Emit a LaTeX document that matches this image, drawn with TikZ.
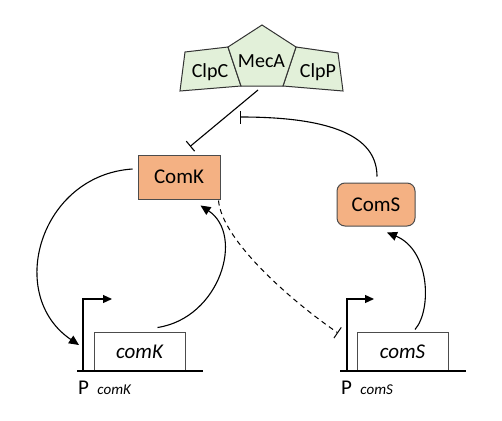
\documentclass[tikz,border=0pt]{standalone}
\usepackage{fontspec}
\setmainfont{Carlito}
\usetikzlibrary{positioning,arrows.meta}

\definecolor{protfill}{HTML}{F4B183}
\definecolor{clpfill}{HTML}{E2F0D9}

\tikzset{
  protein/.style={draw=black!70, line width=1pt, fill=protfill, minimum width=82pt, minimum height=44pt, font=\fontsize{21}{24}\selectfont},
  gene/.style={draw=black!70, line width=1pt, fill=white, minimum width=91pt, minimum height=39pt, font=\fontsize{21}{24}\selectfont\itshape},
  subunit/.style={draw=black!80, line width=1pt, fill=clpfill},
  sublabel/.style={font=\fontsize{20}{22}\selectfont, inner sep=0pt, anchor=base},
  plabel/.style={font=\fontsize{21}{24}\selectfont, inner sep=0pt, anchor=base west},
  act/.style={line width=1.1pt, -{Triangle[length=10pt,width=9pt]}},
  inh/.style={line width=1.1pt, -{Bar[width=13pt]}},
  prom/.style={line width=1.2pt, -{Triangle[length=9pt,width=8pt]}},
  dna/.style={line width=2.5pt},
}

\begin{document}
\begin{tikzpicture}[x=1pt, y=-1pt]
  \useasboundingbox (0,0) rectangle (502,420);

  % Define the complex
  \draw[subunit] (185,52) -- (228,47) -- (241,86) -- (180,91) -- cycle;
  \draw[subunit] (296,47) -- (338,53) -- (343,91) -- (283,86) -- cycle;
  \draw[subunit] (262,25) -- (296,47) -- (283,86) -- (241,86) -- (228,47) -- cycle;
  \node[sublabel] (clpc) at (210,77) {ClpC};
  \node[sublabel] (meca) at (261.5,67) {MecA};
  \node[sublabel] (clpp) at (318,77) {ClpP};
  \coordinate (mecatail) at (258,90);

  % Define nodes
  \node[protein] (comk) at (179,177) {ComK};
  \node[protein, rounded corners=8pt, minimum width=78pt, minimum height=43pt] (coms) at (376,204.5) {ComS};
  \node[gene] (kgene) at (139.5,351.5) {comK};
  \node[gene] (sgene) at (402.5,351.5) {comS};

  % Promoters
  \coordinate (kbase) at (83,371);
  \coordinate (ktss) at (83,299);
  \coordinate (sbase) at (347,371);
  \coordinate (stss) at (347,299);
  \draw[dna] (77,371) -- (203,371);
  \draw[dna] (340,371) -- (466,371);
  \draw[prom] (kbase) -- (ktss) -- ++(29,0);
  \draw[prom] (sbase) -- (stss) -- ++(27,0);
  \node[plabel] (pk) at (78,394) {P};
  \node[plabel, font=\fontsize{15}{17}\selectfont\itshape, right=8pt of pk.base east, anchor=base west] (pksub) {comK};
  \node[plabel] (ps) at (341,394) {P};
  \node[plabel, font=\fontsize{15}{17}\selectfont\itshape, right=8pt of ps.base east, anchor=base west] (pssub) {comS};

  % Targets
  \coordinate (kbind) at (79,345);
  \coordinate (sbind) at (338,333);
  \coordinate (mecahit) at (240,117);

  % Connect the nodes
  \draw[inh] (mecatail) -- ([xshift=11pt,yshift=8pt]comk.north);
  \draw[act] ([xshift=-5pt,yshift=8pt]comk.west) .. controls (40,175) and (5,295) .. (kbind);
  \draw[act] ([xshift=18pt,yshift=4pt]kgene.north) .. controls (220,318) and (245,235) .. ([xshift=-20pt,yshift=-6pt]comk.south east);
  \draw[inh, dash pattern=on 5pt off 4pt, line width=1pt] ([xshift=-2pt,yshift=-1pt]comk.south east) .. controls (222,240) and (290,300) .. (sbind);
  \draw[act] ([xshift=12.5pt,yshift=2pt]sgene.north) .. controls (432,310) and (430,250) .. ([xshift=11pt,yshift=-6pt]coms.south);
  \draw[inh] ([xshift=1pt,yshift=6pt]coms.north) .. controls (377,140) and (340,117) .. (mecahit);

\end{tikzpicture}
\end{document}
